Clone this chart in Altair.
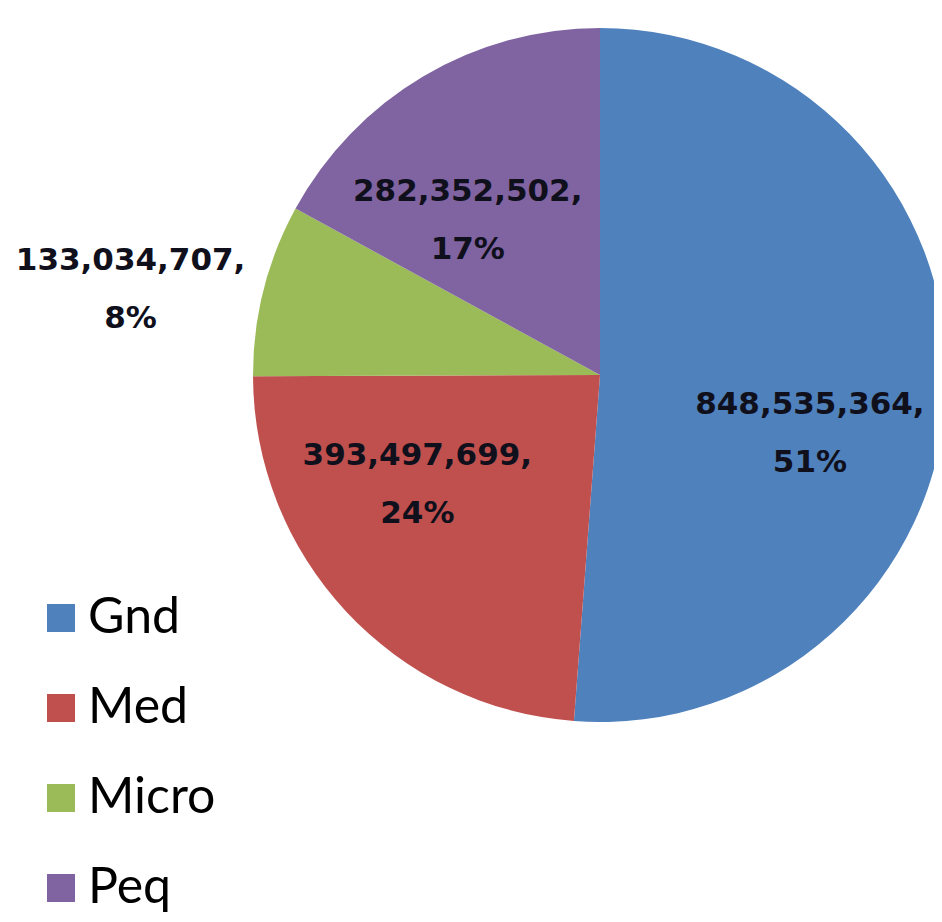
import math
import altair as alt
import pandas as pd

# ---- data ----
categories = ["Gnd", "Med", "Micro", "Peq"]
values = [848535364, 393497699, 133034707, 282352502]
colors = ["#4F81BD", "#C0504D", "#9BBB59", "#8064A2"]

# ---- label placement (style only) ----
label_theta_offset_deg = [13.5, 12.0, -4.0, -10.0]
label_radius_px = [218, 213, 477, 203]

total = sum(values)
rows = []
cum = 0
for i, (c, v) in enumerate(zip(categories, values)):
    mid = (cum + v / 2) / total * 2 * math.pi
    cum += v
    pct = round(v / total * 100)
    rows.append(
        dict(
            cat=c,
            value=v,
            order=i,
            label=f"{v:,},\n{pct}%",
            lt=mid + math.radians(label_theta_offset_deg[i]),
            lr=label_radius_px[i],
        )
    )
df = pd.DataFrame(rows)

CX, CY, R = 592, 367, 347

base = alt.Chart(df)

pie = base.mark_arc(stroke=None).encode(
    theta=alt.Theta("value:Q", stack=True),
    order=alt.Order("order:Q"),
    color=alt.Color(
        "cat:N",
        scale=alt.Scale(domain=categories, range=colors),
        legend=alt.Legend(
            title=None,
            orient="none",
            legendX=28,
            legendY=585,
            symbolType="square",
            symbolSize=784,
            symbolStrokeWidth=0,
            symbolOpacity=1,
            labelFontSize=50,
            labelFont="Lato",
            labelColor="#000000",
            labelOffset=2,
            rowPadding=40,
            padding=0,
        ),
    ),
    x=alt.value(CX),
    y=alt.value(CY),
    radius=alt.value(R),
)

labels = base.mark_text(
    font="DejaVu Sans",
    fontWeight="bold",
    fontSize=31,
    lineBreak="\n",
    lineHeight=58,
    align="center",
    baseline="middle",
    dy=-29,
    color="#10101c",
).encode(
    theta=alt.Theta("lt:Q", scale=None, stack=None),
    radius=alt.Radius("lr:Q", scale=None),
    text="label:N",
    x=alt.value(CX),
    y=alt.value(CY),
)

chart = (
    alt.layer(pie, labels)
    .resolve_scale(theta="independent", radius="independent")
    .properties(width=926, height=906, padding=0, autosize="none", background="white")
    .configure_view(stroke=None)
)

chart.save("out.html", embed_options={"renderer": "svg", "actions": False})
